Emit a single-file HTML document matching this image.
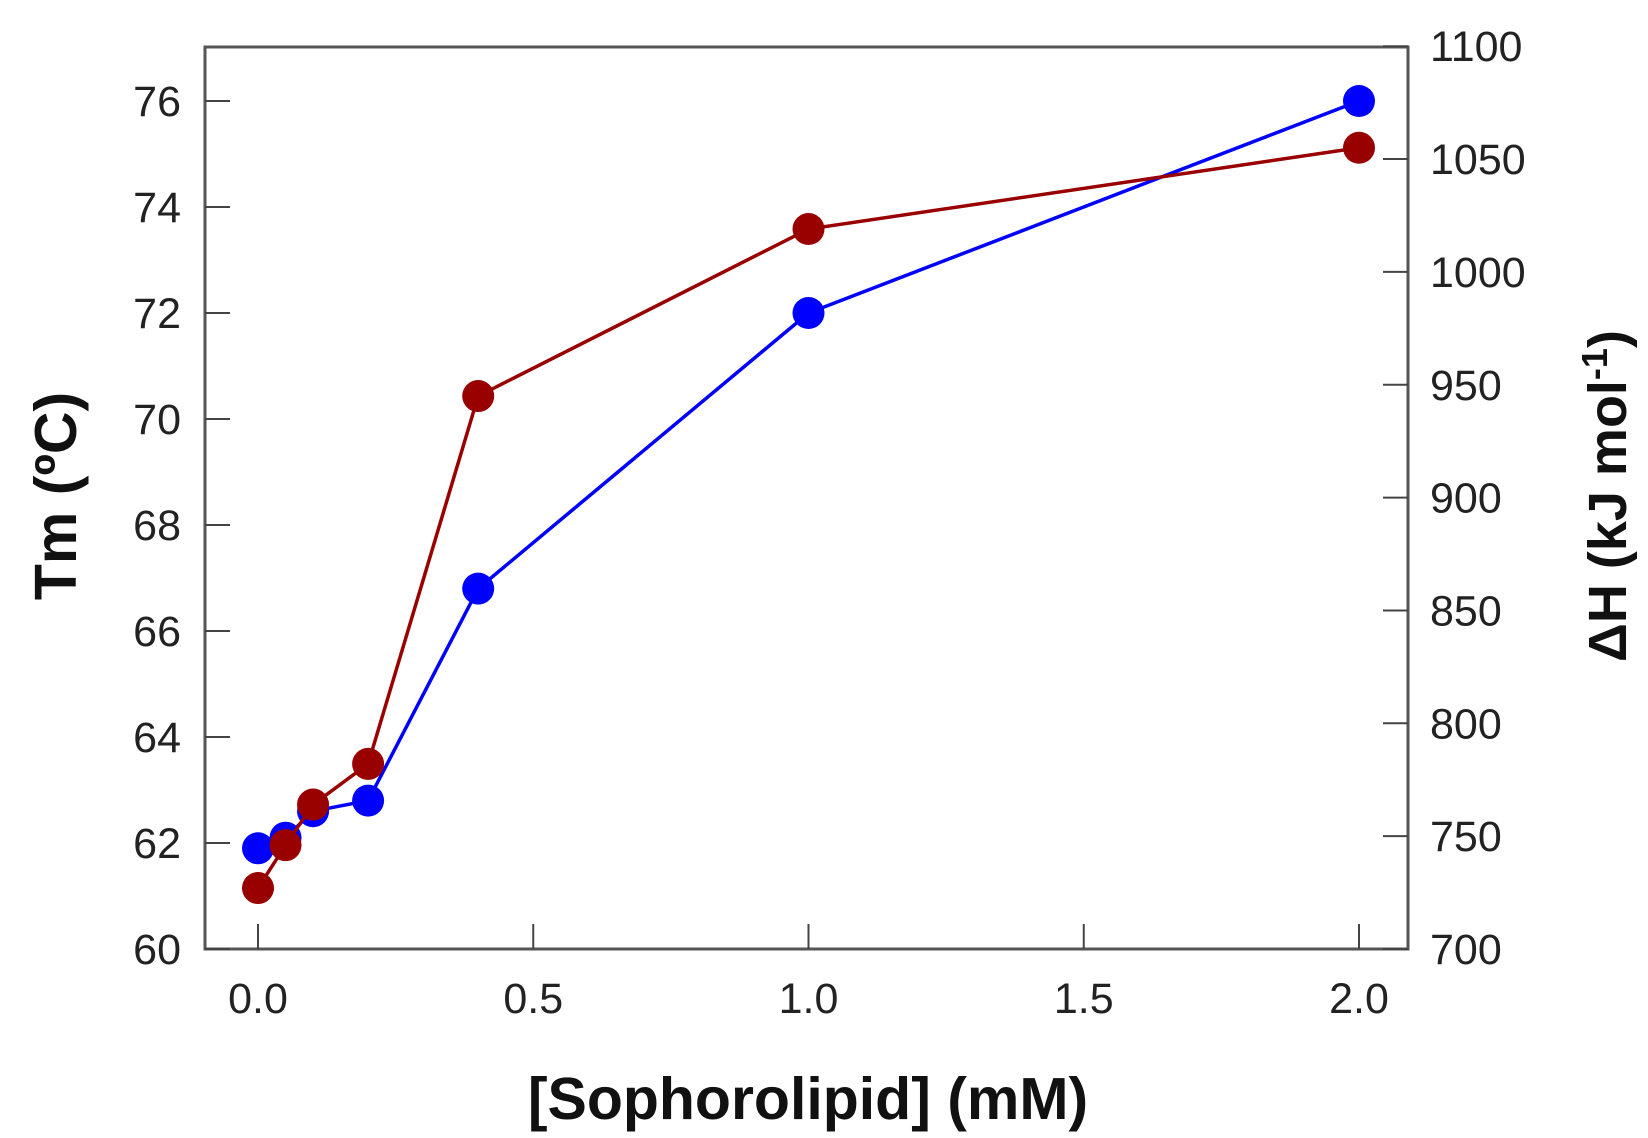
<!DOCTYPE html>
<html><head><meta charset="utf-8"><style>
html,body{margin:0;padding:0;background:#fff;}
svg{display:block;font-family:"Liberation Sans",Arial,sans-serif;}
</style></head><body>
<svg id="chart" width="1648" height="1138" viewBox="0 0 1648 1138">
<g id="axes"></g>
<g id="series"></g>
</svg>
<script>
const xValues=[0,0.05,0.1,0.2,0.4,1.0,2.0];
const tmValues=[61.9,62.1,62.6,62.8,66.8,72.0,76.0];
const dhValues=[727,746,764,782,945,1019,1055];
const xTicks=[0,0.5,1.0,1.5,2.0];
const xTickLabels=["0.0","0.5","1.0","1.5","2.0"];
const leftTicks=[60,62,64,66,68,70,72,74,76];
const rightTicks=[700,750,800,850,900,950,1000,1050,1100];

const L=205,R=1408,T=47,B=949;
const x0=258,xPer=550.5;
function sx(v){return x0+v*xPer;}
function syL(v){return 949-(v-60)*53;}
function syR(v){return 949-(v-700)*2.257;}
const NS="http://www.w3.org/2000/svg";
function mk(tag,attrs,parent){const e=document.createElementNS(NS,tag);for(const k in attrs)e.setAttribute(k,attrs[k]);parent.appendChild(e);return e;}
const ax=document.getElementById('axes'),se=document.getElementById('series');
const frame=mk('rect',{x:L,y:T,width:R-L,height:B-T,fill:'none',stroke:'#555',"stroke-width":3},ax);


xTicks.forEach((v,i)=>{
 const t=mk('line',{x1:sx(v),x2:sx(v),y1:B,y2:B-25,stroke:'#444',"stroke-width":2},ax);
 
 
 const l=mk('text',{x:sx(v),y:1013,"text-anchor":"middle","font-size":43,fill:'#222'},ax);
 l.textContent=xTickLabels[i];
 
 
});
leftTicks.forEach(v=>{
 const t=mk('line',{x1:L,x2:L+25,y1:syL(v),y2:syL(v),stroke:'#444',"stroke-width":2},ax);
 
 
 const l=mk('text',{x:181,y:syL(v)+15,"text-anchor":"end","font-size":43,fill:'#222'},ax);
 l.textContent=v;
 
 
});
rightTicks.forEach(v=>{
 const t=mk('line',{x1:R-25,x2:R,y1:syR(v),y2:syR(v),stroke:'#444',"stroke-width":2},ax);
 
 
 const l=mk('text',{x:1430,y:syR(v)+15,"text-anchor":"start","font-size":43,fill:'#222'},ax);
 l.textContent=v;
 
 
});
const xt=mk('text',{x:808,y:1119,"text-anchor":"middle","font-size":59,"font-weight":"bold",fill:'#111'},ax);
xt.textContent='[Sophorolipid] (mM)';


const yl=mk('text',{x:0,y:0,"text-anchor":"middle","font-size":59,"font-weight":"bold",fill:'#111',transform:'translate(76,496) rotate(-90)'},ax);
yl.textContent='Tm (ºC)';


const yr=mk('text',{x:0,y:0,"text-anchor":"middle","font-size":54,"font-weight":"bold",fill:'#111',transform:'translate(1626,496) rotate(-90)'},ax);
yr.innerHTML='ΔH (kJ mol<tspan dy="-19" font-size="36">-1</tspan><tspan dy="19">)</tspan>';



function drawSeries(vals,sy,color,name){
 const pts=xValues.map((x,i)=>sx(x)+','+sy(vals[i])).join(' ');
 const pl=mk('polyline',{points:pts,fill:'none',stroke:color,"stroke-width":3.5},se);
 
 
 xValues.forEach((x,i)=>{
  const c=mk('circle',{cx:sx(x),cy:sy(vals[i]),r:16,fill:color},se);
  
  
 });
}
drawSeries(tmValues,syL,'#0000ff','tm-series');
drawSeries(dhValues,syR,'#990000','dh-series');
</script>
</body></html>
